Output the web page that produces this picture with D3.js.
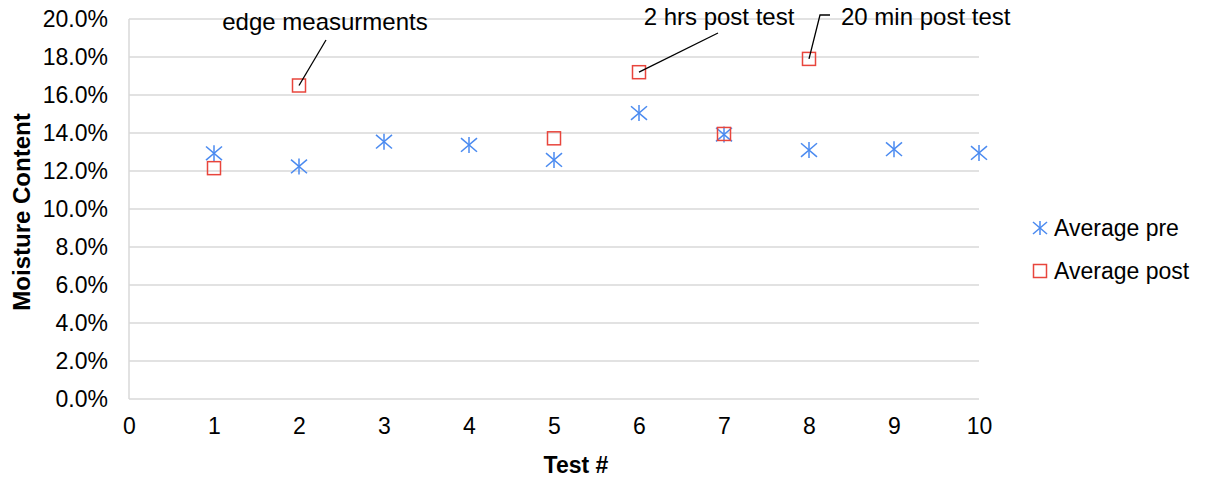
<!DOCTYPE html>
<html>
<head>
<meta charset="utf-8">
<script src="https://cdn.jsdelivr.net/npm/d3@7"></script>
<style>
  html, body { margin: 0; padding: 0; background: #fff; }
  svg text { font-family: "Liberation Sans", Arial, sans-serif; fill: #000; }
</style>
</head>
<body>
<svg id="chart" width="1206" height="481"></svg>
<script>
// Test numbers and moisture readings (fractions)
const tests = [1, 2, 3, 4, 5, 6, 7, 8, 9, 10];
const averagePre = [0.1293, 0.1224, 0.1354, 0.1337, 0.1258, 0.1505, 0.1392, 0.1310, 0.1315, 0.1295];
const averagePost = [0.1215, 0.1650, null, null, 0.1372, 0.1720, 0.1395, 0.1790, null, null];
const xTicks = [0, 1, 2, 3, 4, 5, 6, 7, 8, 9, 10];
const yTicks = [0, 0.02, 0.04, 0.06, 0.08, 0.10, 0.12, 0.14, 0.16, 0.18, 0.20];
const seriesNames = ["Average pre", "Average post"];
// Callouts attached to points of the post series
const callouts = [
  { test: 2, label: "edge measurments" },
  { test: 6, label: "2 hrs post test" },
  { test: 8, label: "20 min post test" }
];

const svg = d3.select("#chart");
const m = { left: 129, right: 979, top: 19, bottom: 399 };
const x = d3.scaleLinear().domain([0, 10]).range([m.left, m.right]);
const y = d3.scaleLinear().domain([0, 0.20]).range([m.bottom, m.top]);

const blue = "#4a8af0";
const red = "#e8453c";
const tickFont = 23;

// Horizontal gridlines
svg.append("g").selectAll("line").data(yTicks).join("line")
  .attr("x1", m.left).attr("x2", m.right)
  .attr("y1", d => y(d)).attr("y2", d => y(d))
  .attr("stroke", "#d9d9d9").attr("stroke-width", 1.5);

// Left axis line
svg.append("line")
  .attr("x1", m.left).attr("x2", m.left)
  .attr("y1", m.top).attr("y2", m.bottom)
  .attr("stroke", "#d9d9d9").attr("stroke-width", 1.5);

// Y axis tick labels
const yAxis = d3.axisLeft(y).tickValues(yTicks).tickFormat(d3.format(".1%")).tickSize(0).tickPadding(21);
const gy = svg.append("g").attr("transform", `translate(${m.left},0)`).call(yAxis);
gy.select(".domain").remove();
gy.selectAll("text").attr("font-size", tickFont).attr("font-family", "Liberation Sans, Arial, sans-serif").attr("fill", "#000");

// X axis tick labels
const xAxis = d3.axisBottom(x).tickValues(xTicks).tickFormat(d3.format("d")).tickSize(0).tickPadding(19);
const gx = svg.append("g").attr("transform", `translate(0,${m.bottom})`).call(xAxis);
gx.select(".domain").remove();
gx.selectAll("text").attr("font-size", tickFont).attr("font-family", "Liberation Sans, Arial, sans-serif").attr("fill", "#000");

// Axis titles
svg.append("text")
  .attr("transform", `translate(30,212) rotate(-90)`)
  .attr("text-anchor", "middle").attr("font-size", 24).attr("font-weight", "bold")
  .text("Moisture Content");
svg.append("text")
  .attr("x", 576).attr("y", 473)
  .attr("text-anchor", "middle").attr("font-size", 23).attr("font-weight", "bold")
  .text("Test #");

// Marker shapes
function asterisk(g, cx, cy, r) {
  const p = g.append("g").attr("transform", `translate(${cx},${cy})`)
    .attr("stroke", blue).attr("stroke-width", 1.5).attr("fill", "none");
  p.append("line").attr("x1", -r).attr("y1", -r * 0.85).attr("x2", r).attr("y2", r * 0.85);
  p.append("line").attr("x1", -r).attr("y1", r * 0.85).attr("x2", r).attr("y2", -r * 0.85);
  p.append("line").attr("x1", 0).attr("y1", -r).attr("x2", 0).attr("y2", r);
}
function square(g, cx, cy, s) {
  g.append("rect").attr("x", cx - s / 2).attr("y", cy - s / 2)
    .attr("width", s).attr("height", s)
    .attr("fill", "none").attr("stroke", red).attr("stroke-width", 1.5);
}

const preData = tests.map((t, i) => ({ t, v: averagePre[i] }));
const postData = tests.map((t, i) => ({ t, v: averagePost[i] })).filter(d => d.v !== null);

const gPre = svg.append("g");
preData.forEach(d => asterisk(gPre, x(d.t), y(d.v), 8));
const gPost = svg.append("g");
postData.forEach(d => square(gPost, x(d.t), y(d.v), 13));

// Callout labels with leader lines
const postAt = t => averagePost[tests.indexOf(t)];
const cg = svg.append("g");
const c0 = callouts[0];
cg.append("text").attr("x", 325).attr("y", 30).attr("text-anchor", "middle").attr("font-size", 24).text(c0.label);
cg.append("path").attr("d", `M326,40 L${x(c0.test)},${y(postAt(c0.test))}`).attr("stroke", "#000").attr("fill", "none").attr("stroke-width", 1.3);

const c1 = callouts[1];
cg.append("text").attr("x", 719).attr("y", 25).attr("text-anchor", "middle").attr("font-size", 24).text(c1.label);
cg.append("path").attr("d", `M718,33 L${x(c1.test)},${y(postAt(c1.test))}`).attr("stroke", "#000").attr("fill", "none").attr("stroke-width", 1.3);

const c2 = callouts[2];
cg.append("text").attr("x", 841).attr("y", 25).attr("text-anchor", "start").attr("font-size", 24).text(c2.label);
cg.append("path").attr("d", `M830,15 L820,15 L${x(c2.test)},${y(postAt(c2.test))}`).attr("stroke", "#000").attr("fill", "none").attr("stroke-width", 1.3);

// Legend
const lg = svg.append("g");
asterisk(lg, 1040, 228, 7);
lg.append("text").attr("x", 1054).attr("y", 236).attr("font-size", 23).text(seriesNames[0]);
square(lg, 1040, 271, 13);
lg.append("text").attr("x", 1054).attr("y", 279).attr("font-size", 23).text(seriesNames[1]);
</script>
</body>
</html>
